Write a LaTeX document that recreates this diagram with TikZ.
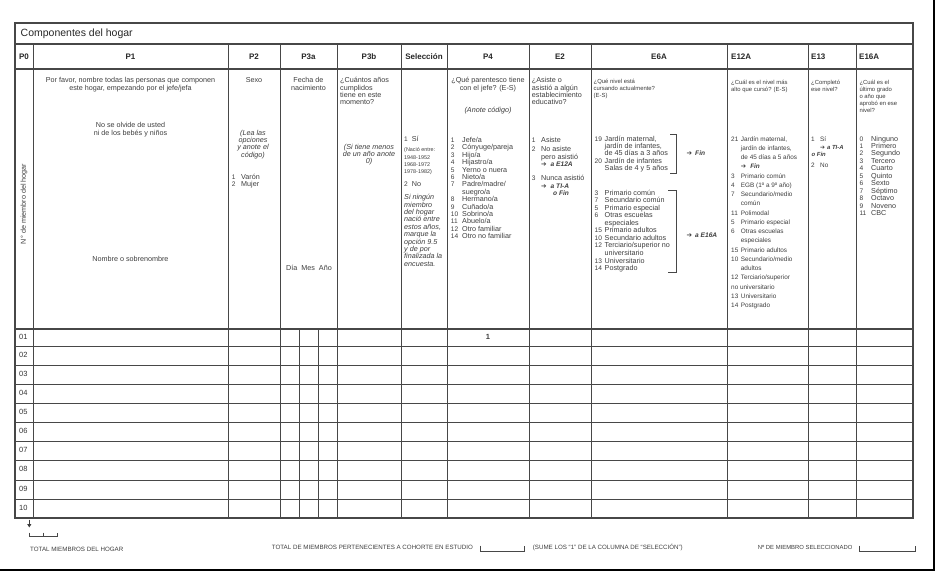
\documentclass[tikz,border=0pt]{standalone}
\usepackage{fontspec}
\setmainfont{Liberation Sans}
\newfontfamily\arrowFont{DejaVu Sans}
\usetikzlibrary{arrows.meta}

\definecolor{inkGray}{HTML}{3D3D3D}
\definecolor{ruleGray}{HTML}{474747}
\newcommand{\goArrow}{{\arrowFont\upshape ➔}}

\begin{document}
\begin{tikzpicture}
[x=1pt,y=-1pt,
  ruleDecorate/.style={draw=ruleGray,line width=0.9pt},%
  frameDecorate/.style={draw=ruleGray,line width=1.2pt},%
  edgeDecorate/.style={draw=black,line width=1.8pt},%
  textDecorate/.style={inner sep=0pt,anchor=west,text=inkGray,text height=5pt,text depth=1.5pt,font=\fontsize{7.2}{7.4}\selectfont},%
  numDecorate/.style={textDecorate,font=\fontsize{6.6}{7.4}\selectfont},%
  centerDecorate/.style={textDecorate,anchor=center},%
  noteDecorate/.style={textDecorate,font=\fontsize{7.2}{7.4}\selectfont\itshape},%
  smallDecorate/.style={textDecorate,font=\fontsize{5.9}{7}\selectfont},%
  listDecorate/.style={textDecorate,font=\fontsize{6.4}{7}\selectfont},%
  jumpDecorate/.style={textDecorate,font=\fontsize{6.6}{7}\selectfont\bfseries\itshape},%
  headDecorate/.style={inner sep=0pt,text=black!85,font=\fontsize{8}{9}\selectfont\bfseries},%
  rowDecorate/.style={textDecorate,text=black!80,font=\fontsize{7.5}{8}\selectfont},%
  footDecorate/.style={textDecorate,font=\fontsize{6.2}{6.4}\selectfont}]
\useasboundingbox (0,0) rectangle (940,572);
%% frame and rules
\draw[frameDecorate] (15,23) rectangle (913,518);
\foreach \y in {44,69,329}
  \draw[frameDecorate] (15,\y) -- (913,\y);
\foreach \y in {346,365,384,403,422,441,460,480,499}
  \draw[ruleDecorate] (15,\y) -- (913,\y);
\foreach \x in {33,228,280,337,401,447,529,591,727,808,856}
  \draw[ruleDecorate] (\x,44) -- (\x,518);
\foreach \x in {299,318}
  \draw[ruleDecorate] (\x,329) -- (\x,518);
%% edge of the page
\draw[edgeDecorate] (0,570) -| (934,0);
%% title and column heads
\node[textDecorate,text=black!85,font=\fontsize{10.5}{12}\selectfont,text height=7.6pt,text depth=2.2pt] (title) at (20.5,33.5) {Componentes del hogar};
\foreach \nodename/\x/\lab in {headPzero/24/P0, headPone/130.5/P1, headPtwo/254/P2, headPthreeA/308.5/P3a, headPthreeB/369/P3b, headSel/424/Selección, headPfour/488/P4, headEtwo/560/E2, headEsix/659/E6A}
{
  \node[headDecorate] (\nodename) at (\x,56.5) {\lab};
}
\foreach \nodename/\x/\lab in {headEtwelve/731/E12A, headEthirteen/811/E13, headEsixteen/859/E16A}
{
  \node[headDecorate,anchor=west] (\nodename) at (\x,56.5) {\lab};
}
%% P0
\node[textDecorate,anchor=center,rotate=90] (pZeroLabel) at (24,204) {N° de miembro del hogar};
%% P1
\foreach \txt [count=\i] in {{Por favor, nombre todas las personas que componen},{este hogar, empezando por el jefe/jefa}}
  \node[centerDecorate] (pOneAsk\i) at (130.5,73.4+7.6*\i) {\txt};
\foreach \txt [count=\i] in {No se olvide de usted,ni de los bebés y niños}
  \node[centerDecorate] (pOneNote\i) at (130.5,118+8*\i) {\txt};
\node[centerDecorate] (pOneName) at (130.5,260) {Nombre o sobrenombre};
%% P2
\node[centerDecorate] (pTwoAsk) at (254,81) {Sexo};
\foreach \txt [count=\i] in {{(Lea las},opciones,y anote el,{código)}}
  \node[noteDecorate,anchor=center] (pTwoNote\i) at (253,125.9+7.4*\i) {\txt};
\foreach \num/\txt [count=\i] in {1/Varón,2/Mujer}
{
  \node[numDecorate] (pTwoNum\i) at (231.7,170+7.4*\i) {\num};
  \node[textDecorate] (pTwoOpt\i) at (241,170+7.4*\i) {\txt};
}
%% P3a
\foreach \txt [count=\i] in {Fecha de,nacimiento}
  \node[centerDecorate] (pThreeAAsk\i) at (308.5,73.6+7.4*\i) {\txt};
\node[centerDecorate] (pThreeADate) at (309,269) {Día\hspace{4pt}Mes\hspace{4pt}Año};
%% P3b
\foreach \txt [count=\i] in {¿Cuántos años,cumplidos,tiene en este,momento?}
  \node[textDecorate] (pThreeBAsk\i) at (340,73.6+7.4*\i) {\txt};
\foreach \txt [count=\i] in {{(Si tiene menos},de un año anote,{0)}}
  \node[noteDecorate,anchor=center] (pThreeBNote\i) at (369,140+7.4*\i) {\txt};
%% Seleccion
\node[numDecorate] (selYesNum) at (404,140) {1};
\node[textDecorate] (selYes) at (411.7,140) {Sí};
\foreach \txt [count=\i] in {{(Nació entre:},1948-1952,1968-1972,{1978-1982)}}
  \node[textDecorate,font=\fontsize{5.4}{6}\selectfont] (selYears\i) at (404,142.5+7.4*\i) {\txt};
\node[numDecorate] (selNoNum) at (404,184.7) {2};
\node[textDecorate] (selNo) at (411.7,184.7) {No};
\foreach \txt [count=\i] in {Si ningún,miembro,del hogar,nació entre,{estos años,},marque la,opción 9.5,y de por,finalizada la,encuesta.}
  \node[noteDecorate] (selNote\i) at (404,190.6+7.4*\i) {\txt};
%% P4
\foreach \txt [count=\i] in {¿Qué parentesco tiene,con el jefe? (E-S)}
  \node[centerDecorate] (pFourAsk\i) at (488,73.6+7.4*\i) {\txt};
\node[noteDecorate,anchor=center] (pFourNote) at (488,111) {(Anote código)};
\foreach \num/\txt [count=\i] in {1/{Jefe/a},2/{Cónyuge/pareja},3/{Hijo/a},4/{Hijastro/a},5/Yerno o nuera,6/{Nieto/a},7/{Padre/madre/},/{suegro/a},8/{Hermano/a},9/{Cuñado/a},10/{Sobrino/a},11/{Abuelo/a},12/Otro familiar,14/Otro no familiar}
{
  \node[numDecorate] (pFourNum\i) at (450.7,133.3+7.4*\i) {\num};
  \node[textDecorate] (pFourOpt\i) at (462,133.3+7.4*\i) {\txt};
}
%% E2
\foreach \txt [count=\i] in {¿Asiste o,asistió a algún,establecimiento,educativo?}
  \node[textDecorate] (eTwoAsk\i) at (531.7,73.6+7.4*\i) {\txt};
\node[numDecorate] (eTwoNumA) at (531.7,140.7) {1};
\node[textDecorate] (eTwoOptA) at (541,140.7) {Asiste};
\node[numDecorate] (eTwoNumB) at (531.7,150) {2};
\node[textDecorate] (eTwoOptB) at (541,150) {No asiste};
\node[textDecorate] (eTwoOptBb) at (541,157.4) {pero asistió};
\node[jumpDecorate] (eTwoJumpB) at (541,164.5) {\goArrow\hspace{4pt}a E12A};
\node[numDecorate] (eTwoNumC) at (531.7,179) {3};
\node[textDecorate] (eTwoOptC) at (541,179) {Nunca asistió};
\node[jumpDecorate] (eTwoJumpC) at (541,186.6) {\goArrow\hspace{4pt}a TI-A};
\node[jumpDecorate] (eTwoJumpCb) at (553,193.3) {o Fin};
%% E6A
\foreach \txt [count=\i] in {¿Qué nivel está,cursando actualmente?,(E-S)}
  \node[smallDecorate] (eSixAsk\i) at (593.5,74.7+7*\i) {\txt};
\foreach \num/\txt [count=\i] in {19/{Jardín maternal,},/{jardín de infantes,},/de 45 días a 3 años,20/Jardín de infantes,/Salas de 4 y 5 años}
{
  \node[numDecorate] (eSixNumA\i) at (594.5,132+7.35*\i) {\num};
  \node[textDecorate] (eSixOptA\i) at (604.5,132+7.35*\i) {\txt};
}
\foreach \num/\txt [count=\i] in {3/Primario común,7/Secundario común,5/Primario especial,6/Otras escuelas,/especiales,15/Primario adultos,10/Secundario adultos,12/{Terciario/superior no},/universitario,13/Universitario,14/Postgrado}
{
  \node[numDecorate] (eSixNumB\i) at (594.5,185.8+7.55*\i) {\num};
  \node[textDecorate] (eSixOptB\i) at (604.5,185.8+7.55*\i) {\txt};
}
\draw[ruleDecorate,line width=0.8pt] (670,134) -| (676,173) -- (670,173);
\draw[ruleDecorate,line width=0.8pt] (668,190) -| (676,272.3) -- (668,272.3);
\node[jumpDecorate] (eSixJumpA) at (686.5,153.3) {\goArrow\hspace{3pt}Fin};
\node[jumpDecorate] (eSixJumpB) at (686.5,236) {\goArrow\hspace{3pt}a E16A};
%% E12A
\foreach \txt [count=\i] in {¿Cuál es el nivel más,alto que cursó? (E-S)}
  \node[smallDecorate] (eTwelveAsk\i) at (731,75.3+7*\i) {\txt};
\foreach \num/\txt [count=\i] in {21/{Jardín maternal,},/{jardín de infantes,},/de 45 días a 5 años,/{\goArrow\hspace{4pt}\textbf{\textit{Fin}}},3/Primario común,4/EGB (1º a 9º año),7/{Secundario/medio},/común,11/Polimodal,5/Primario especial,6/Otras escuelas,/especiales,15/Primario adultos,10/{Secundario/medio},/adultos,12/{Terciario/superior},{no universitario}/,13/Universitario,14/Postgrado}
{
  \node[listDecorate] (eTwelveNum\i) at (731,130.05+9.25*\i) {\num};
  \node[listDecorate] (eTwelveOpt\i) at (740.7,130.05+9.25*\i) {\txt};
}
%% E13
\foreach \txt [count=\i] in {¿Completó,ese nivel?}
  \node[smallDecorate] (eThirteenAsk\i) at (811,75.3+7*\i) {\txt};
\node[listDecorate] (eThirteenNumA) at (811,139.3) {1};
\node[listDecorate] (eThirteenOptA) at (820,139.3) {Sí};
\node[jumpDecorate,font=\fontsize{5.9}{7}\selectfont\bfseries\itshape] (eThirteenJumpA) at (820,147.3) {\goArrow\hspace{2pt}a TI-A};
\node[jumpDecorate,font=\fontsize{5.9}{7}\selectfont\bfseries\itshape] (eThirteenJumpB) at (811.5,154.3) {o Fin};
\node[listDecorate] (eThirteenNumB) at (811,166) {2};
\node[listDecorate] (eThirteenOptB) at (820,166) {No};
%% E16A
\foreach \txt [count=\i] in {¿Cuál es el,último grado,o año que,aprobó en ese,nivel?}
  \node[smallDecorate] (eSixteenAsk\i) at (859.3,75.2+7.1*\i) {\txt};
\foreach \num/\txt [count=\i] in {0/Ninguno,1/Primero,2/Segundo,3/Tercero,4/Cuarto,5/Quinto,6/Sexto,7/Séptimo,8/Octavo,9/Noveno,11/CBC}
{
  \node[numDecorate] (eSixteenNum\i) at (859.3,131.83+7.47*\i) {\num};
  \node[textDecorate] (eSixteenOpt\i) at (871,131.83+7.47*\i) {\txt};
}
%% member rows
\foreach \rowname/\y in {01/337.5,02/355.5,03/374.5,04/393.5,05/412.5,06/431.5,07/450.5,08/470,09/489.5,10/508.5}
{
  \node[rowDecorate] (row\rowname) at (19,\y) {\rowname};
}
\node[centerDecorate,font=\fontsize{7.5}{8}\selectfont\bfseries] (rowOneRel) at (488,337.5) {1};
%% totals
\coordinate (totalArrowTop) at (29.3,519.5);
\coordinate (totalArrowTip) at (29.3,527.5);
\draw[-{Triangle[length=3.5pt,width=4pt]},line width=1.1pt,draw=inkGray] (totalArrowTop) -- (totalArrowTip);
\draw[ruleDecorate,line width=0.7pt] (29.3,532.7) |- (57.3,536.8) -- (57.3,532.7);
\draw[ruleDecorate,line width=0.7pt] (43.3,532.7) -- (43.3,536.8);
\node[footDecorate] (totalHogar) at (30,549.3) {TOTAL MIEMBROS DEL HOGAR};
\node[footDecorate] (totalCohorte) at (271.7,548) {TOTAL DE MIEMBROS PERTENECIENTES A COHORTE EN ESTUDIO};
\draw[ruleDecorate,line width=0.7pt] (480.7,545.5) |- (524,551) -- (524,545.5);
\node[footDecorate] (sumeNote) at (532.7,548) {(SUME LOS “1” DE LA COLUMNA DE “SELECCIÓN”)};
\node[footDecorate,font=\fontsize{5.9}{6}\selectfont] (miembroSel) at (757.7,548) {Nº DE MIEMBRO SELECCIONADO};
\draw[ruleDecorate,line width=0.7pt] (859.3,545.5) |- (915,551) -- (915,545.5);
\end{tikzpicture}
\end{document}
